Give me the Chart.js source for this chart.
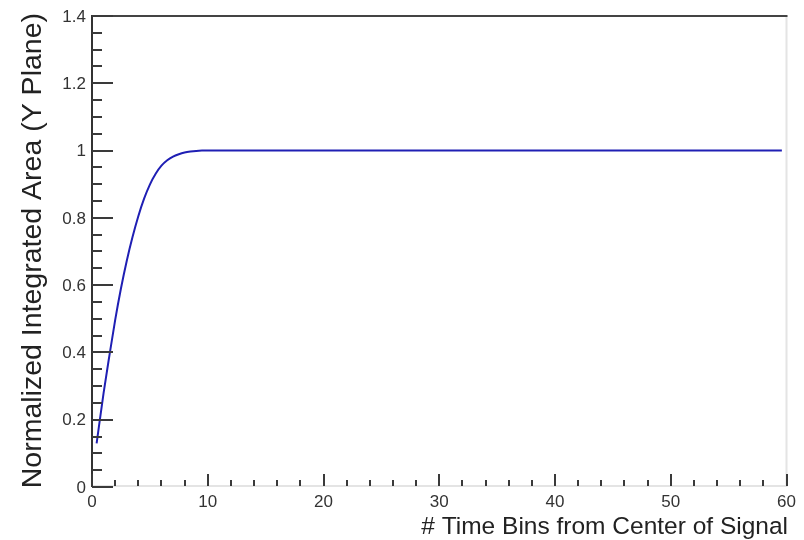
<!DOCTYPE html>
<html>
<head>
<meta charset="utf-8">
<script src="https://cdn.jsdelivr.net/npm/chart.js@4/dist/chart.umd.min.js"></script>
<style>
  html, body { margin: 0; padding: 0; background: #fff; }
  #wrap { width: 804px; height: 540px; }
</style>
</head>
<body>
<div id="wrap"><canvas id="c" width="804" height="540"></canvas></div>
<script>
// curve
const binX = [0.4, 1, 1.5, 2, 2.5, 3, 3.5, 4, 4.5, 5, 5.5, 6, 6.5, 7, 7.5, 8, 8.5, 9, 9.5, 10, 59.6];
const areaY = [0.13, 0.279, 0.39, 0.496, 0.59, 0.672, 0.743, 0.805, 0.857, 0.899, 0.931, 0.955, 0.971, 0.982, 0.989, 0.994, 0.997, 0.999, 1.0, 1.0, 1.0];

const yTickValues = [0, 0.2, 0.4, 0.6, 0.8, 1, 1.2, 1.4];
const yTickLabels = ['0', '0.2', '0.4', '0.6', '0.8', '1', '1.2', '1.4'];
const xTickValues = [0, 10, 20, 30, 40, 50, 60];
const xTickLabels = ['0', '10', '20', '30', '40', '50', '60'];

const xTitle = '# Time Bins from Center of Signal';
const yTitle = 'Normalized Integrated Area (Y Plane)';

const FONT = '"Liberation Sans", Arial, Helvetica, sans-serif';

// ROOT-like frame, ticks and labels drawn from the chart's scales
const rootFrame = {
  id: 'rootFrame',
  afterDraw(chart) {
    const ctx = chart.ctx;
    const a = chart.chartArea;
    const xs = chart.scales.x, ys = chart.scales.y;
    ctx.save();

    // light right/bottom edges
    ctx.strokeStyle = '#e4e4e4';
    ctx.lineWidth = 2;
    ctx.beginPath();
    ctx.moveTo(a.right, a.top); ctx.lineTo(a.right, a.bottom);
    ctx.moveTo(a.left, a.bottom - 1); ctx.lineTo(a.right, a.bottom - 1);
    ctx.stroke();

    // dark top and left
    ctx.strokeStyle = '#444';
    ctx.beginPath();
    ctx.moveTo(a.left, a.top); ctx.lineTo(a.right + 1, a.top);
    ctx.stroke();
    ctx.strokeStyle = '#333';
    ctx.beginPath();
    ctx.moveTo(a.left, a.top - 1); ctx.lineTo(a.left, a.bottom);
    ctx.stroke();

    // y ticks: major every 0.2, minor every 0.05
    ctx.strokeStyle = '#3a3a3a';
    ctx.lineWidth = 2;
    ctx.beginPath();
    for (let i = 0; i <= 28; i++) {
      const v = i * 0.05;
      const py = Math.round(ys.getPixelForValue(v));
      const len = (i % 4 === 0) ? 21 : 10;
      ctx.moveTo(a.left, py); ctx.lineTo(a.left + len, py);
    }
    ctx.stroke();

    // x ticks: major every 10, minor every 2
    ctx.beginPath();
    for (let i = 0; i <= 30; i++) {
      const v = i * 2;
      const px = Math.round(xs.getPixelForValue(v));
      const len = (v % 10 === 0) ? 12 : 6;
      ctx.moveTo(px, a.bottom - 1); ctx.lineTo(px, a.bottom - 1 - len);
    }
    ctx.stroke();

    // tick labels
    ctx.fillStyle = '#333';
    ctx.font = '17px ' + FONT;
    ctx.textAlign = 'right';
    ctx.textBaseline = 'middle';
    yTickValues.forEach((v, i) => {
      ctx.fillText(yTickLabels[i], 86, ys.getPixelForValue(v) + 1);
    });
    ctx.textAlign = 'center';
    xTickValues.forEach((v, i) => {
      ctx.fillText(xTickLabels[i], xs.getPixelForValue(v), 502);
    });

    // axis titles
    ctx.fillStyle = '#222';
    ctx.font = '24.5px ' + FONT;
    ctx.textAlign = 'right';
    ctx.textBaseline = 'alphabetic';
    ctx.fillText(xTitle, 788, 534);

    ctx.save();
    ctx.translate(41, 13);
    ctx.rotate(-Math.PI / 2);
    ctx.font = '28.5px ' + FONT;
    ctx.textAlign = 'right';
    ctx.fillText(yTitle, 0, 0);
    ctx.restore();

    ctx.restore();
  }
};

new Chart(document.getElementById('c'), {
  type: 'line',
  data: {
    datasets: [{
      data: binX.map((x, i) => ({ x: x, y: areaY[i] })),
      borderColor: '#1f1fb4',
      borderWidth: 2,
      pointRadius: 0,
      fill: false,
      cubicInterpolationMode: 'monotone'
    }]
  },
  options: {
    responsive: false,
    animation: false,
    devicePixelRatio: 1,
    layout: { padding: { left: 92, right: 17.5, top: 16, bottom: 53 } },
    scales: {
      x: { type: 'linear', min: 0, max: 60, display: false },
      y: { type: 'linear', min: 0, max: 1.4, display: false }
    },
    plugins: { legend: { display: false }, tooltip: { enabled: false } }
  },
  plugins: [rootFrame]
});
</script>
</body>
</html>
